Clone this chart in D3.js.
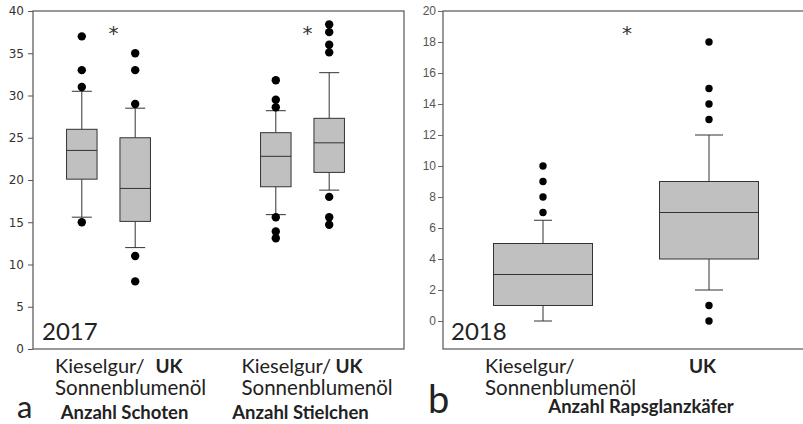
<!DOCTYPE html>
<html>
<head>
<meta charset="utf-8">
<script src="https://cdn.jsdelivr.net/npm/d3@7"></script>
<style>
  body { margin: 0; background: #fff; }
  svg { display: block; }
  .lbl { font-family: Lato, "Open Sans", sans-serif; fill: #222; }
  .star { font-family: "DejaVu Sans", sans-serif; fill: #333; }
</style>
</head>
<body>
<svg width="803" height="424"></svg>
<script>
// panel a: 2017, Schoten + Stielchen
var groupsA = ["Anzahl Schoten", "Anzahl Stielchen"];
var treatments = ["Kieselgur/Sonnenblumenöl", "UK"];
var q1A = [20.1, 15.1, 19.2, 20.9];
var medianA = [23.5, 19.0, 22.8, 24.4];
var q3A = [26.0, 25.0, 25.6, 27.3];
var lowA = [15.6, 12.0, 15.9, 18.8];
var highA = [30.5, 28.5, 28.2, 32.7];
var outliersA = [
  [37, 33, 31, 15],
  [35, 33, 29, 11, 8],
  [31.8, 29.5, 28.6, 15.6, 13.9, 13.1],
  [38.4, 37.5, 36, 35.1, 18, 15.6, 14.7]
];
var ticksA = [0, 5, 10, 15, 20, 25, 30, 35, 40];

// panel b: 2018, Rapsglanzkäfer
var q1B = [1, 4];
var medianB = [3, 7];
var q3B = [5, 9];
var lowB = [0, 2];
var highB = [6.5, 12];
var outliersB = [[7, 8, 9, 10], [18, 15, 14, 13, 1, 0]];
var ticksB = [0, 2, 4, 6, 8, 10, 12, 14, 16, 18, 20];

var svg = d3.select("svg");

// ---------- panel a ----------
var yA = d3.scaleLinear().domain([0, 40]).range([349, 11]);
var xGroupA = d3.scalePoint().domain(groupsA).range([108.5, 302.5]);
var xInner = d3.scalePoint().domain(treatments).range([-26.7, 26.7]);

svg.append("rect").attr("x", 33).attr("y", 11).attr("width", 371).attr("height", 338)
  .attr("fill", "none").attr("stroke", "#555").attr("stroke-width", 1.2);

var axA = svg.append("g").attr("transform", "translate(33,0)")
  .call(d3.axisLeft(yA).tickValues(ticksA).tickSize(5).tickPadding(4));
axA.select(".domain").remove();
axA.selectAll("line").attr("stroke", "#555");
axA.selectAll("text").style("font-family", "'DejaVu Sans', sans-serif").style("font-size", "12px").attr("fill", "#333");

var boxesA = [];
groupsA.forEach(function(g, gi) {
  treatments.forEach(function(t, ti) {
    var i = gi * 2 + ti;
    boxesA.push({ cx: xGroupA(g) + xInner(t), q1: q1A[i], med: medianA[i], q3: q3A[i],
      lo: lowA[i], hi: highA[i], out: outliersA[i] });
  });
});
drawBoxes(boxesA, yA, 30.5, 20, 4.2);

// asterisks between the boxes
groupsA.forEach(function(g) {
  svg.append("text").attr("class", "star").attr("x", xGroupA(g) + 5).attr("y", 40)
    .attr("text-anchor", "middle").style("font-size", "20px").text("*");
});

svg.append("text").attr("class", "lbl").attr("x", 42).attr("y", 340).style("font-size", "24px").text("2017");

// category labels under panel a (label offsets per group)
var kieselX = [55, 241.5];
var ukX = [169, 349];
var titleX = [124.5, 300.5];
groupsA.forEach(function(g, gi) {
  svg.append("text").attr("class", "lbl").attr("x", kieselX[gi]).attr("y", 373).style("font-size", "20px").text("Kieselgur/");
  svg.append("text").attr("class", "lbl").attr("x", kieselX[gi]).attr("y", 395).style("font-size", "20.5px").text("Sonnenblumenöl");
  svg.append("text").attr("class", "lbl").attr("x", ukX[gi]).attr("y", 373)
    .attr("text-anchor", "middle").style("font-size", "19px").style("font-weight", "bold").text("UK");
  svg.append("text").attr("class", "lbl").attr("x", titleX[gi]).attr("y", 419)
    .attr("text-anchor", "middle").style("font-size", "18.5px").style("font-weight", "bold").text(g);
});
svg.append("text").attr("class", "lbl").attr("x", 17).attr("y", 418).style("font-size", "31px").text("a");

// ---------- panel b ----------
var yB = d3.scaleLinear().domain([0, 20]).range([321, 11]);
var xB = d3.scalePoint().domain(treatments).range([543, 709]);

svg.append("rect").attr("x", 443).attr("y", 11).attr("width", 380).attr("height", 338)
  .attr("fill", "none").attr("stroke", "#555").attr("stroke-width", 1.2);

var axB = svg.append("g").attr("transform", "translate(443,0)")
  .call(d3.axisLeft(yB).tickValues(ticksB).tickSize(5).tickPadding(2));
axB.select(".domain").remove();
axB.selectAll("line").attr("stroke", "#666");
axB.selectAll("text").style("font-family", "'Liberation Sans', Arial, sans-serif").style("font-size", "12px").attr("fill", "#555");

var boxesB = treatments.map(function(t, i) {
  return { cx: xB(t), q1: q1B[i], med: medianB[i], q3: q3B[i], lo: lowB[i], hi: highB[i], out: outliersB[i] };
});
drawBoxes(boxesB, yB, 99, 0, 3.7, [18, 28]);

svg.append("text").attr("class", "star").attr("x", 627).attr("y", 40)
  .attr("text-anchor", "middle").style("font-size", "20px").text("*");
svg.append("text").attr("class", "lbl").attr("x", 451).attr("y", 340).style("font-size", "24px").text("2018");
svg.append("text").attr("class", "lbl").attr("x", 485).attr("y", 373).style("font-size", "20px").text("Kieselgur/");
svg.append("text").attr("class", "lbl").attr("x", 485).attr("y", 395).style("font-size", "20.5px").text("Sonnenblumenöl");
svg.append("text").attr("class", "lbl").attr("x", 702.5).attr("y", 373)
  .attr("text-anchor", "middle").style("font-size", "19px").style("font-weight", "bold").text("UK");
svg.append("text").attr("class", "lbl").attr("x", 641).attr("y", 413)
  .attr("text-anchor", "middle").style("font-size", "18.5px").style("font-weight", "bold").text("Anzahl Rapsglanzkäfer");
svg.append("text").attr("class", "lbl").attr("x", 428).attr("y", 413).style("font-size", "38px").text("b");

function drawBoxes(data, y, bw, capW, r, capWs) {
  var g = svg.append("g").selectAll("g").data(data).enter().append("g");
  g.append("line").attr("x1", function(d) { return d.cx; }).attr("x2", function(d) { return d.cx; })
    .attr("y1", function(d) { return y(d.hi); }).attr("y2", function(d) { return y(d.q3); })
    .attr("stroke", "#333");
  g.append("line").attr("x1", function(d) { return d.cx; }).attr("x2", function(d) { return d.cx; })
    .attr("y1", function(d) { return y(d.q1); }).attr("y2", function(d) { return y(d.lo); })
    .attr("stroke", "#333");
  ["hi", "lo"].forEach(function(k) {
    g.append("line")
      .attr("x1", function(d, i) { var c = capWs ? capWs[i] : capW; return d.cx - c / 2; })
      .attr("x2", function(d, i) { var c = capWs ? capWs[i] : capW; return d.cx + c / 2; })
      .attr("y1", function(d) { return y(d[k]); }).attr("y2", function(d) { return y(d[k]); })
      .attr("stroke", "#333");
  });
  g.append("rect").attr("x", function(d) { return d.cx - bw / 2; })
    .attr("y", function(d) { return y(d.q3); })
    .attr("width", bw).attr("height", function(d) { return y(d.q1) - y(d.q3); })
    .attr("fill", "#c0c0c0").attr("stroke", "#333");
  g.append("line").attr("x1", function(d) { return d.cx - bw / 2; }).attr("x2", function(d) { return d.cx + bw / 2; })
    .attr("y1", function(d) { return y(d.med); }).attr("y2", function(d) { return y(d.med); })
    .attr("stroke", "#333");
  g.selectAll("circle").data(function(d) { return d.out.map(function(v) { return { cx: d.cx, v: v }; }); })
    .enter().append("circle")
    .attr("cx", function(d) { return d.cx; }).attr("cy", function(d) { return y(d.v); })
    .attr("r", r).attr("fill", "#000");
}
</script>
</body>
</html>
